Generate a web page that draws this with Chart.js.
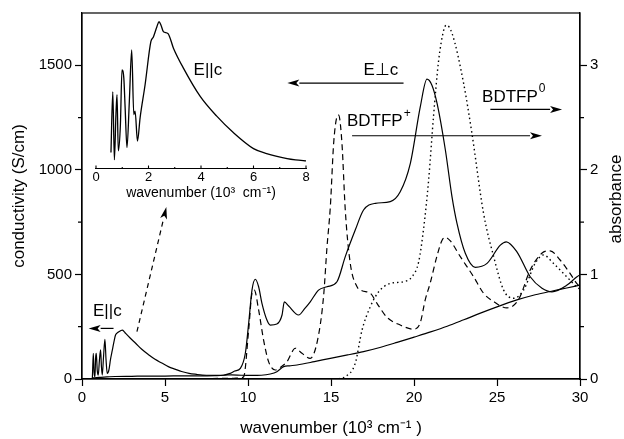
<!DOCTYPE html>
<html>
<head>
<meta charset="utf-8">
<script src="https://cdn.jsdelivr.net/npm/chart.js@4.4.1/dist/chart.umd.min.js"></script>
<style>
  html, body { margin: 0; padding: 0; background: #fff; }
  #wrap { position: relative; width: 624px; height: 439px; }
  #main { position: absolute; left: 0; top: 0; }
  #inset { position: absolute; left: 86px; top: 0; }
</style>
</head>
<body>
<div id="wrap">
  <canvas id="main" width="624" height="439"></canvas>
  <canvas id="inset" width="240" height="205"></canvas>
</div>
<script>
'use strict';

// --- data (wavenumber in 10^3 cm^-1, conductivity in S/cm; 1 absorbance unit = 500 on the left scale) ---
const eParX = [0.6, 0.62, 0.68, 0.73, 0.78, 0.82, 0.86, 0.92, 0.98, 1.05, 1.12, 1.17, 1.22, 1.3, 1.38, 1.45, 1.52, 1.62, 1.72, 1.83, 1.93, 2.02, 2.15, 2.33, 2.43, 2.55, 2.63, 2.9, 3.23, 3.6, 4.03, 4.4, 4.84, 5.2, 5.64, 6.0, 6.45, 6.9, 7.25, 7.8, 8.45, 9.0, 9.6, 10.2, 10.8, 11.34, 11.74, 12.15, 12.5, 12.95, 14.0, 14.96, 16.0, 16.96, 18.0, 18.98, 20.0, 21.0, 22.0, 23.0, 24.0, 25.0, 26.2, 27.3, 28.4, 29.2, 30];
const eParY = [0, 3, 123, 30, 11, 100, 123, 40, 19, 90, 139, 60, 19, 110, 190, 90, 27, 43, 95, 139, 180, 210, 222, 231, 234, 225, 218, 196, 171, 142, 115, 94, 75, 59, 46, 36, 27, 22, 19, 18, 18, 20, 18, 17, 18, 24, 35, 59, 63, 67, 83, 99, 115, 131, 152, 175, 200, 225, 252, 283, 315, 345, 378, 403, 422, 435, 449];

const ePerpX = [0.6, 1.0, 1.5, 2.0, 3.0, 4.0, 5.0, 6.0, 7.0, 8.0, 8.5, 8.93, 9.2, 9.54, 9.84, 10.04, 10.24, 10.44, 10.64, 10.84, 11.14, 11.34, 11.74, 12.05, 12.19, 12.45, 13.05, 13.4, 13.75, 14.25, 14.76, 15.36, 15.86, 16.46, 16.96, 17.67, 18.57, 19.17, 19.78, 20.38, 20.78, 21.08, 21.39, 21.89, 22.29, 22.59, 23.09, 23.69, 24.4, 25.2, 25.56, 26.2, 27.0, 27.71, 28.31, 29.22, 29.82, 30];
const ePerpY = [5, 8, 10, 12, 13, 14, 14, 15, 15, 16, 18, 27, 38, 51, 123, 266, 425, 477, 441, 362, 282, 258, 263, 306, 369, 349, 306, 335, 369, 425, 441, 465, 585, 712, 808, 840, 848, 895, 1031, 1302, 1434, 1405, 1318, 1095, 871, 744, 601, 534, 553, 640, 656, 608, 489, 434, 417, 449, 489, 497];

const cationX = [0, 5, 9.0, 9.5, 9.74, 10.04, 10.24, 10.38, 10.64, 10.94, 11.24, 11.64, 11.95, 12.35, 12.85, 13.25, 13.75, 14.19, 14.55, 14.76, 14.96, 15.16, 15.36, 15.46, 15.66, 15.86, 16.16, 16.57, 16.87, 17.37, 17.77, 18.37, 19.17, 19.98, 20.38, 20.68, 20.98, 21.39, 21.7, 21.89, 22.19, 22.79, 23.59, 24.19, 24.8, 25.6, 26.3, 27.0, 27.7, 28.2, 28.8, 29.4, 29.8, 30];
const cationY = [2, 2, 3, 5, 11, 234, 410, 425, 330, 186, 83, 43, 56, 83, 147, 123, 99, 186, 393, 632, 824, 1127, 1254, 1262, 1127, 808, 553, 441, 422, 410, 362, 295, 258, 238, 270, 380, 460, 590, 665, 677, 660, 585, 489, 410, 370, 340, 380, 521, 601, 613, 569, 505, 457, 440];

const neutralX = [0, 5, 10, 14, 15.5, 15.86, 16.46, 16.87, 17.37, 17.87, 18.57, 19.37, 19.88, 20.28, 20.58, 20.88, 21.18, 21.48, 21.79, 21.95, 22.29, 22.99, 23.49, 24.19, 24.8, 25.4, 26.0, 26.6, 27.3, 27.8, 28.4, 29.2, 29.8, 30];
const neutralY = [0, 0, 0, 0, 2, 11, 75, 234, 346, 417, 457, 465, 489, 560, 720, 950, 1260, 1520, 1668, 1692, 1653, 1413, 1174, 792, 585, 425, 386, 425, 553, 593, 553, 489, 441, 430];

// inset: E||c conductivity, drawn on the same vertical scale (1000..1750)
const insetX = [0.57, 0.64, 0.70, 0.76, 0.80, 0.85, 0.93, 0.99, 1.06, 1.11, 1.18, 1.27, 1.36, 1.44, 1.49, 1.58, 1.68, 1.87, 2.09, 2.19, 2.32, 2.40, 2.48, 2.57, 2.74, 2.95, 3.33, 3.97, 4.6, 5.24, 6.0, 6.5, 7.28, 7.6, 8.04];
const insetY = [1079, 1371, 1044, 1262, 1358, 1087, 1214, 1477, 1437, 1294, 1103, 1326, 1573, 1262, 1278, 1134, 1246, 1405, 1612, 1636, 1684, 1708, 1690, 1660, 1652, 1581, 1485, 1349, 1254, 1174, 1098, 1074, 1050, 1044, 1039];

const xTicks = [0, 5, 10, 15, 20, 25, 30];
const yTicks = [0, 500, 1000, 1500];
const yMinor = [250, 750, 1250];
const absTicks = [0, 1, 2, 3];
const absMinor = [0.5, 1.5, 2.5];
const insetTicks = [0, 1, 2, 3, 4, 5, 6, 7, 8];

const FONT = "'Liberation Sans', Arial, Helvetica, sans-serif";
Chart.defaults.font.family = FONT;
Chart.defaults.color = '#000';

const pts = (xs, ys) => xs.map((x, i) => ({x: x, y: ys[i]}));
const plain = v => String(v);

function line(data, dash, width) {
    return {
        data: data,
        borderColor: '#000',
        borderWidth: width || 1.2,
        borderDash: dash || [],
        pointRadius: 0,
        fill: false,
        cubicInterpolationMode: 'monotone'
    };
}

function arrow(ctx, x1, y1, x2, y2, dashed) {
    const ang = Math.atan2(y2 - y1, x2 - x1);
    const L = 12, W = 3.5;
    const bx = x2 - L * Math.cos(ang), by = y2 - L * Math.sin(ang);
    ctx.save();
    ctx.strokeStyle = '#000';
    ctx.fillStyle = '#000';
    ctx.lineWidth = 1.2;
    if (dashed) ctx.setLineDash([5, 4]);
    ctx.beginPath();
    ctx.moveTo(x1, y1);
    ctx.lineTo(bx, by);
    ctx.stroke();
    ctx.setLineDash([]);
    ctx.beginPath();
    ctx.moveTo(x2, y2);
    ctx.lineTo(bx - W * Math.sin(ang), by + W * Math.cos(ang));
    ctx.lineTo(x2 - (L - 3) * Math.cos(ang), y2 - (L - 3) * Math.sin(ang));
    ctx.lineTo(bx + W * Math.sin(ang), by - W * Math.cos(ang));
    ctx.closePath();
    ctx.fill();
    ctx.restore();
}

// annotations in data units
const notes = [
    {text: 'E||c', x: 6.72, y: 1477},
    {text: 'E\u22A5c', x: 16.96, y: 1477},
    {text: 'BDTFP', sup: '+', x: 15.96, y: 1230},
    {text: 'BDTFP', sup: '0', x: 24.1, y: 1349},
    {text: 'E||c', x: 0.66, y: 322}
];
const arrows = [
    {x1: 19.37, y1: 1415, x2: 12.37, y2: 1415},
    {x1: 16.27, y1: 1163, x2: 27.71, y2: 1163},
    {x1: 24.6, y1: 1289, x2: 28.92, y2: 1289},
    {x1: 1.9, y1: 242, x2: 0.4, y2: 242},
    {x1: 3.31, y1: 226, x2: 5.08, y2: 822, dashed: true}
];

const decorations = {
    id: 'decorations',
    afterDraw(chart) {
        const {ctx, chartArea: a, scales} = chart;
        const sx = scales.x, sy = scales.y, s2 = scales.y2;
        ctx.save();
        ctx.strokeStyle = '#000';
        ctx.lineWidth = 1.2;
        ctx.strokeRect(a.left, a.top, a.right - a.left, a.bottom - a.top);
        ctx.beginPath();
        yMinor.forEach(v => {
            const p = sy.getPixelForValue(v);
            ctx.moveTo(a.left - 4, p); ctx.lineTo(a.left, p);
        });
        absMinor.forEach(v => {
            const p = s2.getPixelForValue(v);
            ctx.moveTo(a.right, p); ctx.lineTo(a.right + 4, p);
        });
        ctx.stroke();

        ctx.fillStyle = '#000';
        ctx.textBaseline = 'middle';
        notes.forEach(n => {
            const px = sx.getPixelForValue(n.x), py = sy.getPixelForValue(n.y);
            ctx.font = '17px ' + FONT;
            ctx.fillText(n.text, px, py);
            if (n.sup) {
                const w = ctx.measureText(n.text).width;
                ctx.font = '12px ' + FONT;
                ctx.fillText(n.sup, px + w + 1, py - 8);
            }
        });
        arrows.forEach(r => arrow(ctx,
            sx.getPixelForValue(r.x1), sy.getPixelForValue(r.y1),
            sx.getPixelForValue(r.x2), sy.getPixelForValue(r.y2), r.dashed));

        // right axis title reads bottom to top
        ctx.translate(a.right + 36, (a.top + a.bottom) / 2 + 3);
        ctx.rotate(-Math.PI / 2);
        ctx.textAlign = 'center';
        ctx.font = '17px ' + FONT;
        ctx.fillText('absorbance', 0, 0);
        ctx.restore();
    }
};

new Chart(document.getElementById('main'), {
    type: 'line',
    data: {
        datasets: [
            line(pts(eParX, eParY)),
            line(pts(ePerpX, ePerpY)),
            line(pts(cationX, cationY), [6, 4]),
            line(pts(neutralX, neutralY), [1.5, 3], 1.4)
        ]
    },
    options: {
        responsive: false,
        animation: false,
        layout: {padding: {top: 13, left: 0, right: 0, bottom: 0}},
        plugins: {legend: {display: false}, tooltip: {enabled: false}},
        scales: {
            x: {
                type: 'linear', min: 0, max: 30,
                afterFit(s) { s.height = 60; },
                afterBuildTicks(s) { s.ticks = xTicks.map(v => ({value: v})); },
                ticks: {font: {size: 15}, padding: 3, maxRotation: 0, callback: plain},
                grid: {drawOnChartArea: false, tickLength: 7, tickColor: '#000', tickWidth: 1.2},
                border: {color: '#000', width: 1.2},
                title: {display: true, text: 'wavenumber (10\u00B3 cm\u207B\u00B9 )', font: {size: 17}, padding: {top: 0, bottom: 0}}
            },
            y: {
                type: 'linear', position: 'left', min: 0, max: 1750,
                afterFit(s) { s.width = 82; },
                afterBuildTicks(s) { s.ticks = yTicks.map(v => ({value: v})); },
                ticks: {font: {size: 15}, padding: 3, callback: plain},
                grid: {drawOnChartArea: false, tickLength: 7, tickColor: '#000', tickWidth: 1.2},
                border: {color: '#000', width: 1.2},
                title: {display: true, text: 'conductivity (S/cm)', font: {size: 17}, padding: {top: 9, bottom: 0}}
            },
            y2: {
                type: 'linear', position: 'right', min: 0, max: 3.5,
                afterFit(s) { s.width = 44; },
                afterBuildTicks(s) { s.ticks = absTicks.map(v => ({value: v})); },
                ticks: {font: {size: 15}, padding: 3, callback: plain},
                grid: {drawOnChartArea: false, tickLength: 7, tickColor: '#000', tickWidth: 1.2},
                border: {color: '#000', width: 1.2}
            }
        }
    },
    plugins: [decorations]
});

const insetTickMarks = {
    id: 'insetTickMarks',
    afterDraw(chart) {
        const {ctx, chartArea: a, scales} = chart;
        ctx.save();
        ctx.strokeStyle = '#000';
        ctx.lineWidth = 1.1;
        ctx.beginPath();
        insetTicks.forEach(v => {
            const p = scales.x.getPixelForValue(v);
            ctx.moveTo(p, a.bottom);
            ctx.lineTo(p, a.bottom - (v % 2 ? 2 : 3.5));
        });
        ctx.stroke();
        ctx.restore();
    }
};

new Chart(document.getElementById('inset'), {
    type: 'line',
    data: {datasets: [line(pts(insetX, insetY), [], 1.3)]},
    options: {
        responsive: false,
        animation: false,
        layout: {padding: {top: 13, left: 10, right: 20, bottom: 0}},
        plugins: {legend: {display: false}, tooltip: {enabled: false}},
        scales: {
            x: {
                type: 'linear', min: 0, max: 8,
                afterFit(s) { s.height = 36; },
                afterBuildTicks(s) { s.ticks = [0, 2, 4, 6, 8].map(v => ({value: v})); },
                ticks: {font: {size: 13}, padding: 1, maxRotation: 0, callback: plain},
                grid: {display: false, drawTicks: false},
                border: {display: true, color: '#000', width: 1.1},
                title: {display: true, text: 'wavenumber (10\u00B3  cm\u207B\u00B9)', font: {size: 14}, padding: {top: 0, bottom: 3}}
            },
            y: {type: 'linear', min: 1000, max: 1750, display: false}
        }
    },
    plugins: [insetTickMarks]
});
</script>
</body>
</html>
